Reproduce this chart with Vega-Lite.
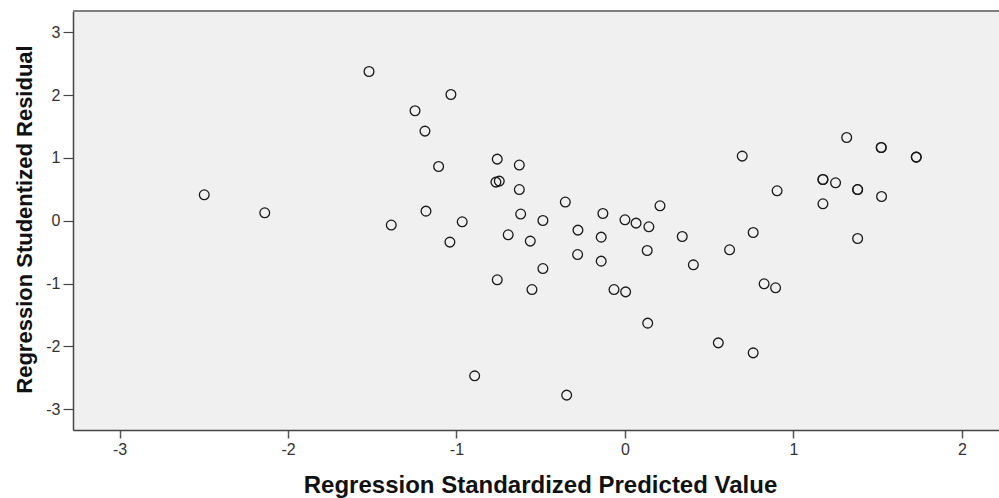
{
  "$schema": "https://vega.github.io/schema/vega-lite/v6.json",
  "autosize": "none",
  "padding": {"left": 73, "top": 11, "right": 0, "bottom": 68},
  "width": 926,
  "height": 419,
  "background": "white",
  "config": {
    "view": {"fill": "#f0f0f0", "stroke": null},
    "font": "Liberation Sans"
  },
  "data": {
    "values": [
      {"pred": -2.497, "resid": 0.414},
      {"pred": -2.138, "resid": 0.127},
      {"pred": -1.519, "resid": 2.377},
      {"pred": -1.387, "resid": -0.068},
      {"pred": -1.246, "resid": 1.752},
      {"pred": -1.187, "resid": 1.428},
      {"pred": -1.181, "resid": 0.154},
      {"pred": -1.106, "resid": 0.865},
      {"pred": -1.033, "resid": 2.011},
      {"pred": -1.039, "resid": -0.339},
      {"pred": -0.966, "resid": -0.016},
      {"pred": -0.892, "resid": -2.468},
      {"pred": -0.758, "resid": 0.982},
      {"pred": -0.766, "resid": 0.616},
      {"pred": -0.746, "resid": 0.632},
      {"pred": -0.758, "resid": -0.939},
      {"pred": -0.693, "resid": -0.223},
      {"pred": -0.627, "resid": 0.887},
      {"pred": -0.627, "resid": 0.498},
      {"pred": -0.619, "resid": 0.107},
      {"pred": -0.562, "resid": -0.323},
      {"pred": -0.552, "resid": -1.094},
      {"pred": -0.487, "resid": 0.005},
      {"pred": -0.487, "resid": -0.760},
      {"pred": -0.354, "resid": 0.298},
      {"pred": -0.346, "resid": -2.775},
      {"pred": -0.279, "resid": -0.148},
      {"pred": -0.281, "resid": -0.537},
      {"pred": -0.141, "resid": -0.260},
      {"pred": -0.131, "resid": 0.116},
      {"pred": -0.141, "resid": -0.642},
      {"pred": -0.065, "resid": -1.094},
      {"pred": 0.000, "resid": 0.016},
      {"pred": 0.004, "resid": -1.131},
      {"pred": 0.066, "resid": -0.037},
      {"pred": 0.142, "resid": -0.096},
      {"pred": 0.132, "resid": -0.473},
      {"pred": 0.135, "resid": -1.629},
      {"pred": 0.208, "resid": 0.239},
      {"pred": 0.340, "resid": -0.250},
      {"pred": 0.406, "resid": -0.701},
      {"pred": 0.554, "resid": -1.943},
      {"pred": 0.621, "resid": -0.462},
      {"pred": 0.696, "resid": 1.030},
      {"pred": 0.761, "resid": -0.186},
      {"pred": 0.761, "resid": -2.102},
      {"pred": 0.826, "resid": -1.003},
      {"pred": 0.894, "resid": -1.067},
      {"pred": 0.903, "resid": 0.478},
      {"pred": 1.175, "resid": 0.658},
      {"pred": 1.175, "resid": 0.658},
      {"pred": 1.175, "resid": 0.271},
      {"pred": 1.250, "resid": 0.605},
      {"pred": 1.316, "resid": 1.326},
      {"pred": 1.381, "resid": 0.498},
      {"pred": 1.381, "resid": 0.498},
      {"pred": 1.381, "resid": -0.282},
      {"pred": 1.521, "resid": 1.167},
      {"pred": 1.521, "resid": 1.167},
      {"pred": 1.523, "resid": 0.387},
      {"pred": 1.729, "resid": 1.014},
      {"pred": 1.729, "resid": 1.014}
    ]
  },
  "layer": [
    {
      "mark": {"type": "point", "shape": "circle", "filled": false, "stroke": "#1a1a1a", "strokeWidth": 1.3, "size": 95, "opacity": 1},
      "encoding": {
        "x": {
          "field": "pred", "type": "quantitative",
          "scale": {"domain": [-3.276, 2.22], "nice": false, "zero": false},
          "axis": {
            "values": [-3, -2, -1, 0, 1, 2],
            "grid": false,
            "labelExpr": "datum.value < 0 ? '-' + abs(datum.value) : '' + datum.value",
            "domainColor": "#444444", "domainWidth": 1.5,
            "tickColor": "#555555", "tickWidth": 1.5, "tickSize": 8,
            "labelFont": "Liberation Sans", "labelFontSize": 16, "labelColor": "#333333", "labelPadding": 3,
            "title": "Regression Standardized Predicted Value",
            "titleFont": "Liberation Sans", "titleFontSize": 24, "titleFontWeight": "bold", "titleColor": "#111111",
            "titleBaseline": "alphabetic", "titleY": 62, "titleX": 467
          }
        },
        "y": {
          "field": "resid", "type": "quantitative",
          "scale": {"domain": [-3.33, 3.34], "nice": false, "zero": false},
          "axis": {
            "values": [-3, -2, -1, 0, 1, 2, 3],
            "grid": false,
            "labelExpr": "datum.value < 0 ? '-' + abs(datum.value) : '' + datum.value",
            "domainColor": "#444444", "domainWidth": 1.5,
            "tickColor": "#444444", "tickWidth": 1.2, "tickSize": 10,
            "labelFont": "Liberation Sans", "labelFontSize": 16, "labelColor": "#333333", "labelPadding": 3,
            "title": "Regression Studentized Residual",
            "titleFont": "Liberation Sans", "titleFontSize": 22, "titleFontWeight": "bold", "titleColor": "#111111",
            "titleBaseline": "alphabetic", "titleX": -41.5, "titleY": 208
          }
        }
      }
    },
    {
      "mark": {"type": "rule", "color": "#808080", "strokeWidth": 1.5},
      "encoding": {
        "y": {"datum": 3.34, "type": "quantitative"}
      }
    }
  ]
}
